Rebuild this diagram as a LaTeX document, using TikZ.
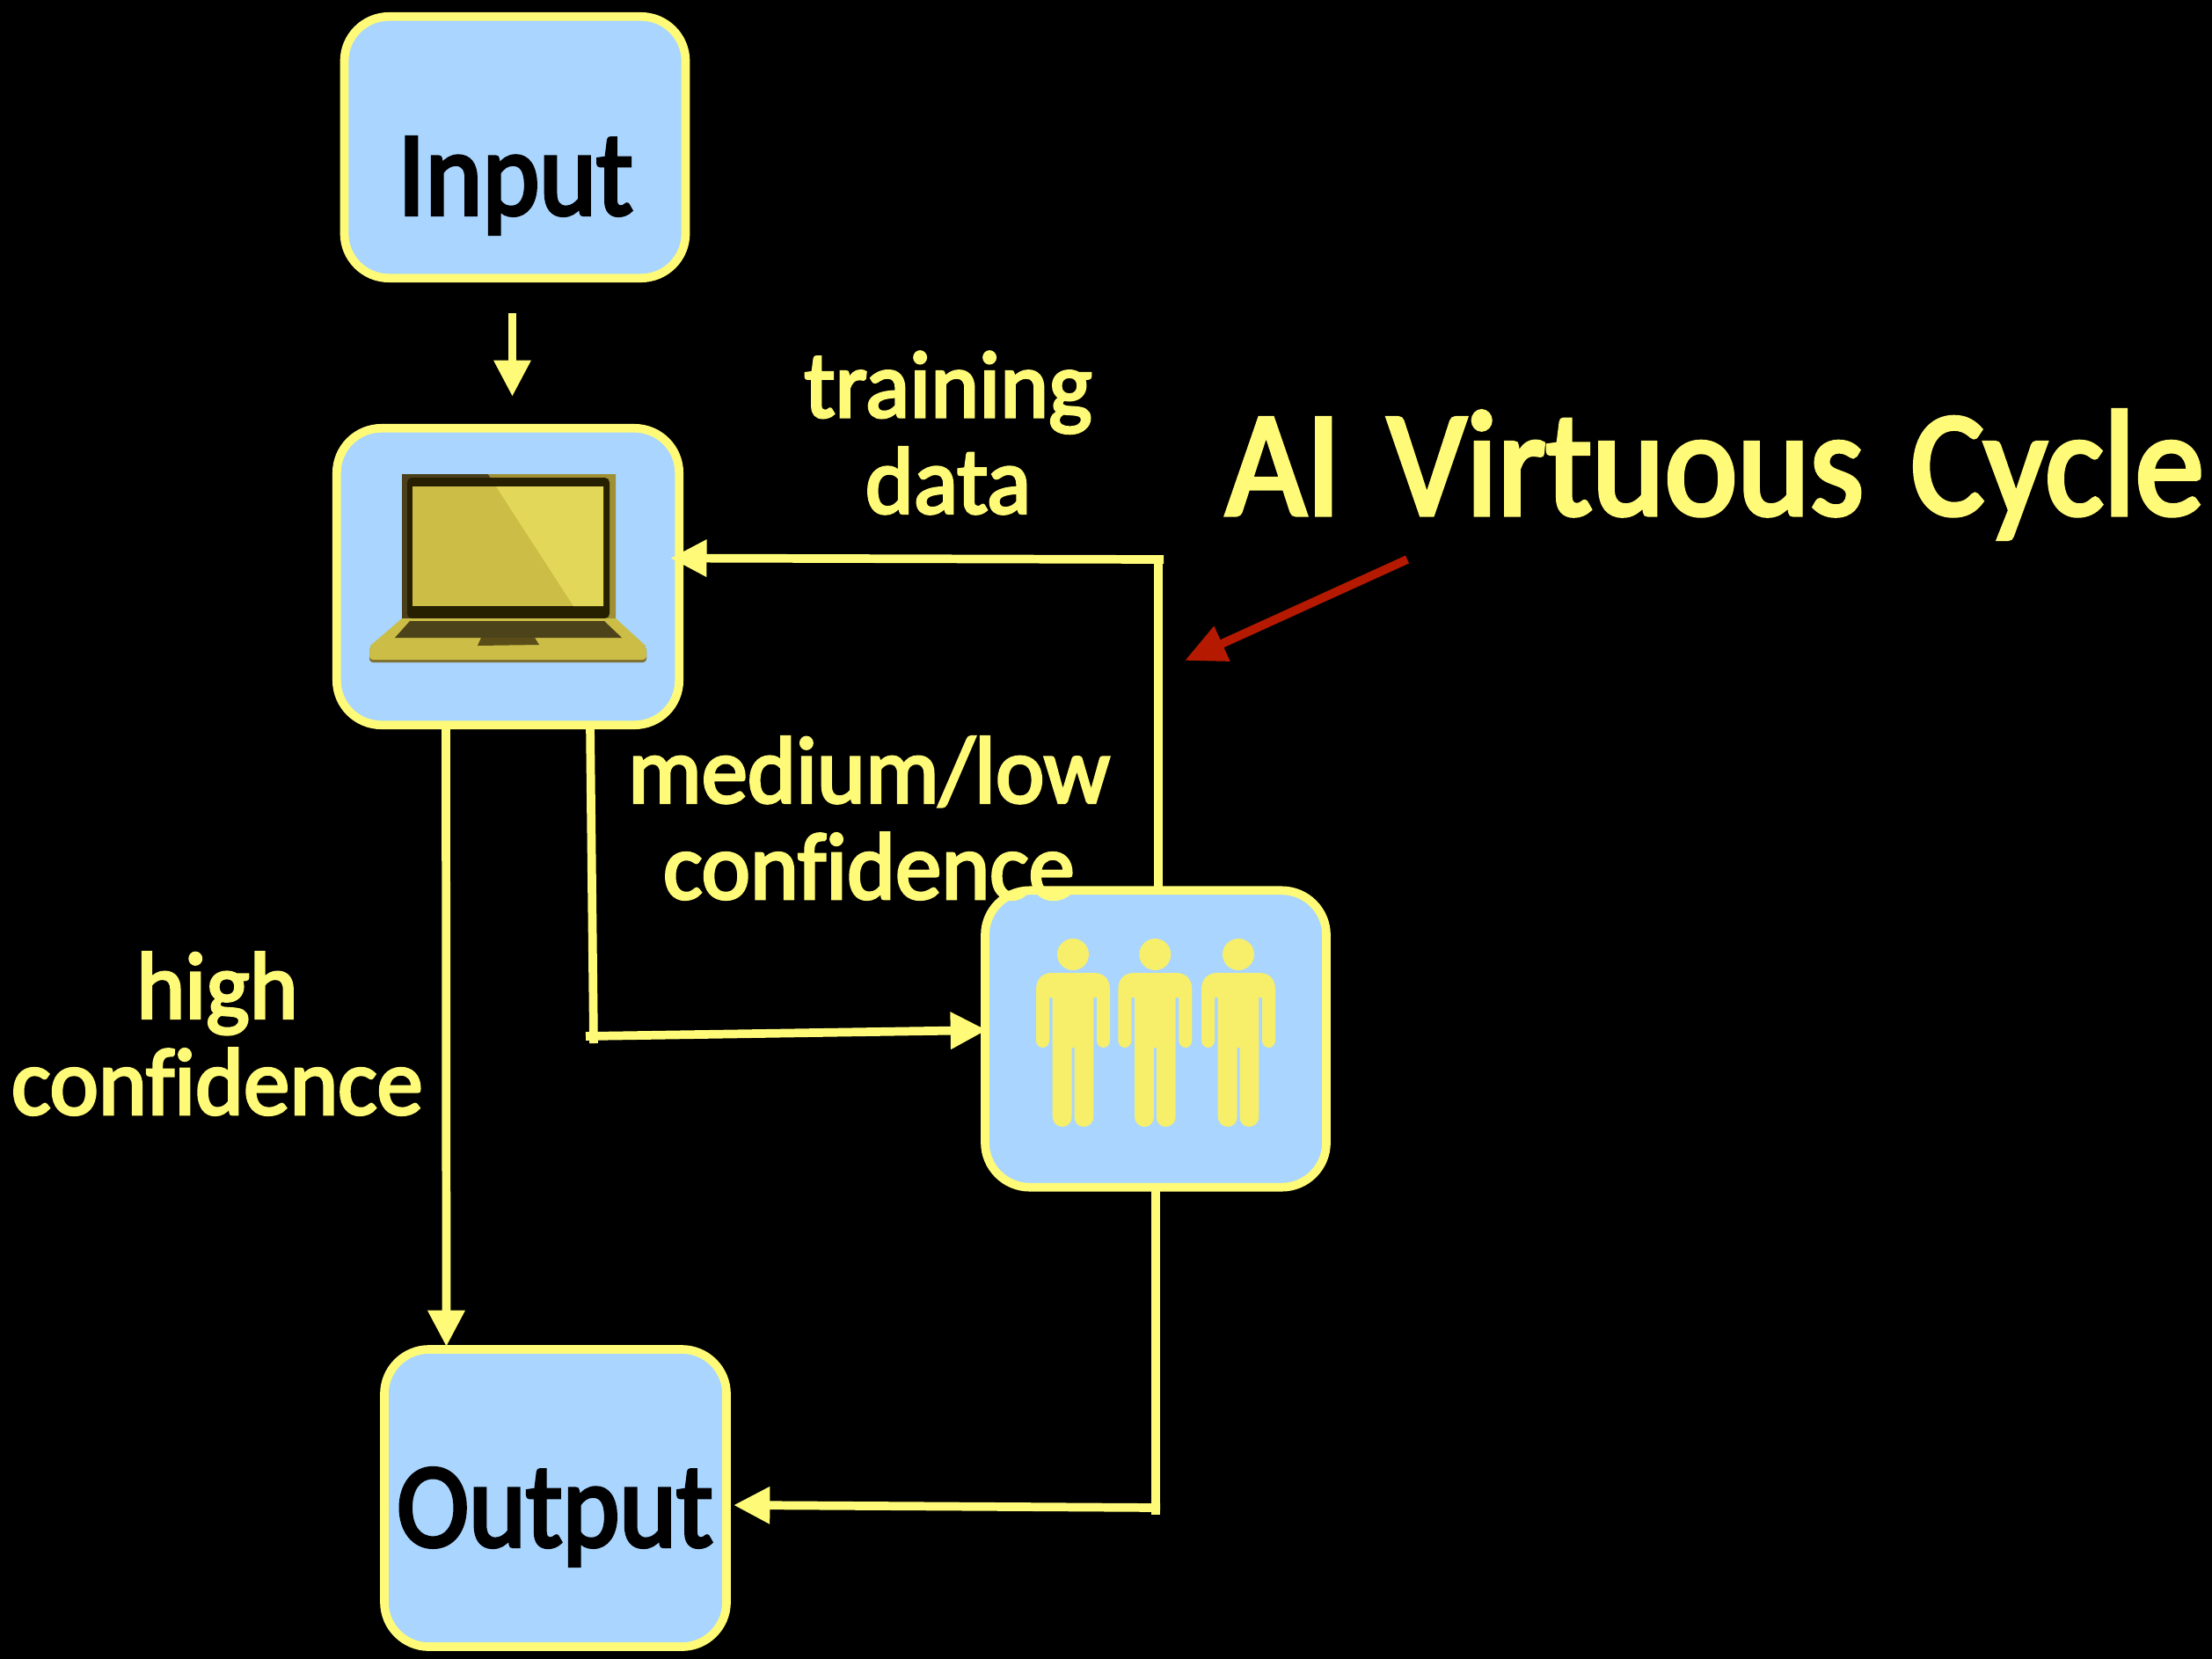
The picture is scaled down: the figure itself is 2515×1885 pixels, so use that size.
\documentclass[tikz,border=0pt]{standalone}
\usepackage{fontspec}
\newfontfamily\boxfont{Carlito}[FakeBold=3,FakeStretch=0.90,Ligatures=CommonOff]
\newfontfamily\labelfont{Carlito}[FakeBold=3,FakeStretch=0.97,Ligatures=CommonOff]
\newfontfamily\titlefont{Carlito}[FakeBold=3,FakeStretch=0.92,WordSpace=1.5,Ligatures=CommonOff]
\usetikzlibrary{arrows.meta,calc}
\definecolor{flowyellow}{HTML}{FFFB78}
\definecolor{boxblue}{HTML}{A9D5FF}
\definecolor{personyellow}{HTML}{F7EF6A}
\definecolor{arrowred}{HTML}{B51A00}
\definecolor{lidleft}{HTML}{4A3F1A}
\definecolor{lidright}{HTML}{A09035}
\definecolor{bezel}{HTML}{262000}
\definecolor{screenleft}{HTML}{CBBD45}
\definecolor{screenright}{HTML}{E3D75A}
\definecolor{keyboard}{HTML}{4D431B}
\definecolor{trackpad}{HTML}{5A4D18}
\definecolor{baseedge}{HTML}{7D7030}
\tikzset{
  stagebox/.style={draw=flowyellow,fill=boxblue,line width=7.3pt,rounded corners=38pt,inner sep=0pt,outer sep=0pt},
  boxtext/.style={text=black,inner sep=0pt,anchor=base,font=\fontsize{103}{110}\boxfont\selectfont},
  flow/.style={draw=flowyellow,line width=7.3pt},
  flowtip/.style={flow,-{Triangle[length=31pt,width=30pt]}},
  flowlabel/.style={text=flowyellow,align=center,inner sep=0pt,font=\fontsize{81}{82}\labelfont\selectfont},
}
\begin{document}
\begin{tikzpicture}[x=0.75pt,y=0.75pt,yscale=-1,xscale=1]
	\useasboundingbox (0,0) rectangle (2515,1885);
	\fill[black] (-10,-10) rectangle (2525,1895);

	% boxes
	\node[stagebox,minimum width=291pt,minimum height=223pt] (input) at (585.5,167.5) {};
	\node[stagebox,minimum width=292pt,minimum height=253pt] (laptop) at (577.5,655.5) {};
	\node[stagebox,minimum width=291pt,minimum height=253pt] (people) at (1314,1181) {};
	\node[stagebox,minimum width=291.75pt,minimum height=253.5pt] (output) at (631.5,1703) {};

	% box texts
	\node[boxtext] (inputtext) at (586,244) {Input};
	\node[boxtext] (outputtext) at (631,1758) {Output};

	% laptop
	\fill[lidleft] (457,539) rectangle (700,703);
	\fill[lidright] (555,539) -- (700,539) -- (700,703) -- (655,703) -- cycle;
	\fill[bezel,rounded corners=4pt] (463,543) -- (693,543) -- (693,703) -- (463,703) -- cycle;
	\fill[screenleft] (469,553) rectangle (686,689);
	\fill[screenright] (564,553) -- (686,553) -- (686,689) -- (652,689) -- cycle;
	\fill[screenleft] (457,703) -- (700,703) -- (735,735) -- (420,735) -- cycle;
	\fill[keyboard] (466,706) -- (687,706) -- (707,725) -- (449,725) -- cycle;
	\fill[trackpad] (547,725) -- (608,725) -- (613,733) -- (543,734) -- cycle;
	\fill[baseedge,rounded corners=3pt] (420,735) rectangle (735,753);
	\fill[screenleft,rounded corners=3pt] (420,735) rectangle (735,750);

	% people
	\foreach \personx in {1220,1313.3,1408} {
		\begin{scope}[shift={(\personx,0)}]
			\fill[personyellow] (0,1085) circle (18);
			\fill[personyellow] (-42,1183) -- (-42,1125) .. controls (-42,1112) and (-34,1106) .. (-24,1106) -- (24,1106) .. controls (34,1106) and (42,1112) .. (42,1125) -- (42,1183) .. controls (42,1188) and (38,1191) .. (34.5,1191) .. controls (31,1191) and (27,1188) .. (27,1183) -- (27,1134) -- (23.3,1134) -- (23.3,1270) .. controls (23.3,1276) and (18,1281) .. (12,1281) .. controls (6,1281) and (1.5,1276) .. (1.5,1270) -- (1.5,1191) -- (-1.5,1191) -- (-1.5,1270) .. controls (-1.5,1276) and (-6,1281) .. (-12,1281) .. controls (-18,1281) and (-23.3,1276) .. (-23.3,1270) -- (-23.3,1134) -- (-27,1134) -- (-27,1183) .. controls (-27,1188) and (-31,1191) .. (-34.5,1191) .. controls (-38,1191) and (-42,1188) .. (-42,1183) -- cycle;
		\end{scope}
	}

	% connectors
	\coordinate (trainelbow) at (1323,636);
	\coordinate (trainrise) at (1317,641);
	\coordinate (lowelbow) at (675,1186);
	\coordinate (lowstart) at (666,1178);
	\coordinate (outdrop) at (1314,1722);
	\coordinate (outstart) at (1319,1714);
	\draw[flowtip] ($(input.south)+(-3,40)$) -- ($(laptop.north)+(5,-36)$);
	\draw[flowtip] ($(laptop.south)+(-70.5,0)$) -- ($(output.north)+(-124,-3)$);
	\draw[flow] ($(laptop.south)+(93.5,0)$) -- (lowelbow);
	\draw[flowtip] (lowstart) -- ($(people.west)+(2,-10)$);
	\draw[flow] ($(people.north)+(3,0)$) -- (trainrise);
	\draw[flowtip] (trainelbow) -- ($(laptop.east)+(-10,-21)$);
	\draw[flow] (people.south) -- (outdrop);
	\draw[flowtip] (outstart) -- ($(output.east)+(8,8)$);

	% red pointer
	\coordinate (cyclepoint) at (1600,636);
	\coordinate (cycletip) at (1347,751);
	\draw[arrowred,line width=7.3pt,-{Triangle[length=35pt,width=31pt]}] (cyclepoint) -- (cycletip);

	% labels
	\node[flowlabel] (training) at (1078,492) {training\\data};
	\node[flowlabel] (medium) at (988,930) {medium/low\\confidence};
	\node[flowlabel] (high) at (247,1175) {high\\confidence};
	\node[text=flowyellow,inner sep=0pt,anchor=base,font=\fontsize{128}{130}\titlefont\selectfont] (cycle) at (1950,585) {AI Virtuous Cycle};
\end{tikzpicture}
\end{document}
